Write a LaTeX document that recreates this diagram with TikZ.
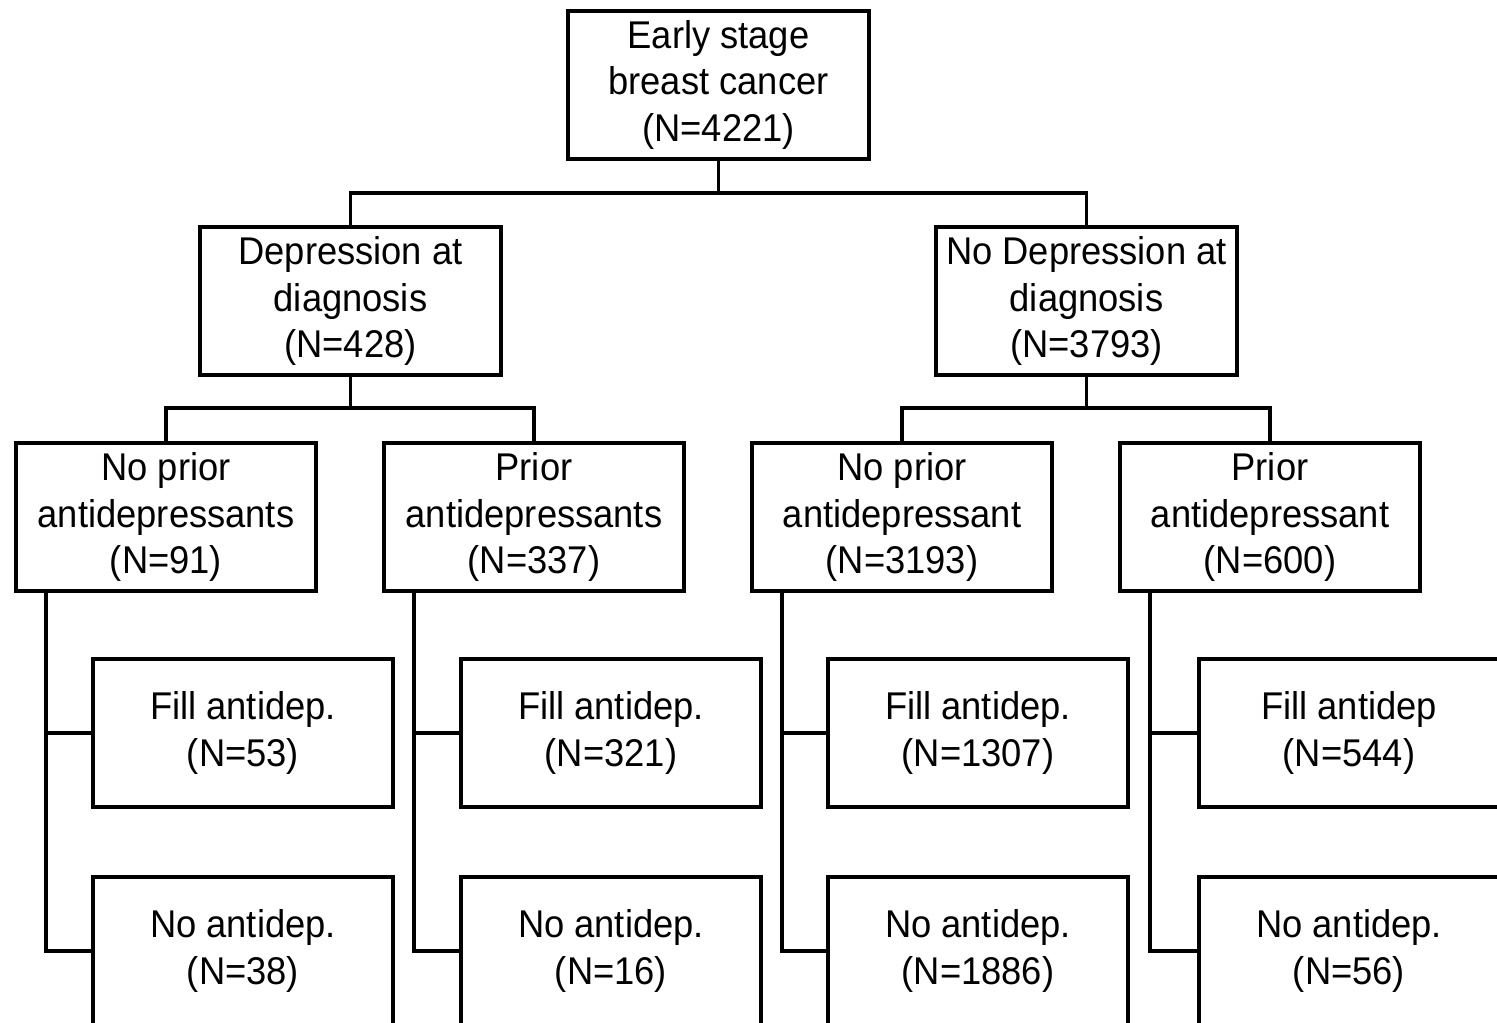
\documentclass[tikz,border=0pt]{standalone}
\usepackage{fontspec}
\setmainfont[FakeStretch=0.94]{Liberation Sans}
\tikzset{
  cohort/.style={rectangle, draw, line width=0.08cm, minimum width=6.02cm, minimum height=2.96cm, inner sep=0pt, align=center, font=\fontsize{22}{26.4}\selectfont},
  link/.style={line width=0.07cm}
}
\newcommand{\cohortbox}[3] {\node at (#1) (#2) [cohort] {#3};}
\newcommand{\cohortsplit}[4] {\draw [link] (#1) -- (#2) -| (#3); \draw [link] (#2) -| (#4);}
\newcommand{\cohortrail}[4] {\draw [link] (#1.south -| #4) -- (#4) -- (#3); \draw [link] (#2 -| #4) -- (#2);}

\begin{document}
\begin{tikzpicture}[x=0.02cm, y=-0.02cm]
\useasboundingbox (0,0) rectangle (1497,1023);

\cohortbox {718.5,85}{top}{Early stage\\breast cancer\\(N=4221)}

\cohortbox {350.5,301}{dep}{Depression at\\diagnosis\\(N=428)}
\cohortbox {1086.5,301}{nodep}{No Depression at\\diagnosis\\(N=3793)}
\coordinate (topsplit) at (718.5,193);
\cohortsplit {top}{topsplit}{dep}{nodep}

\cohortbox {166,517}{dep1}{No prior\\antidepressants\\(N=91)}
\cohortbox {534,517}{dep2}{Prior\\antidepressants\\(N=337)}
\coordinate (depsplit) at (350.5,408);
\cohortsplit {dep}{depsplit}{dep1}{dep2}

\cohortbox {902,517}{nodep1}{No prior\\antidepressant\\(N=3193)}
\cohortbox {1270,517}{nodep2}{Prior\\antidepressant\\(N=600)}
\coordinate (nodepsplit) at (1086.5,408);
\cohortsplit {nodep}{nodepsplit}{nodep1}{nodep2}

\cohortbox {243,733}{dep1fill}{Fill antidep.\\(N=53)}
\cohortbox {243,951}{dep1no}{No antidep.\\(N=38)}
\coordinate (dep1rail) at (46,951);
\cohortrail {dep1}{dep1fill}{dep1no}{dep1rail}

\cohortbox {611,733}{dep2fill}{Fill antidep.\\(N=321)}
\cohortbox {611,951}{dep2no}{No antidep.\\(N=16)}
\coordinate (dep2rail) at (414,951);
\cohortrail {dep2}{dep2fill}{dep2no}{dep2rail}

\cohortbox {978,733}{nodep1fill}{Fill antidep.\\(N=1307)}
\cohortbox {978,951}{nodep1no}{No antidep.\\(N=1886)}
\coordinate (nodep1rail) at (782,951);
\cohortrail {nodep1}{nodep1fill}{nodep1no}{nodep1rail}

\cohortbox {1349,733}{nodep2fill}{Fill antidep\\(N=544)}
\cohortbox {1349,951}{nodep2no}{No antidep.\\(N=56)}
\coordinate (nodep2rail) at (1150,951);
\cohortrail {nodep2}{nodep2fill}{nodep2no}{nodep2rail}

\end{tikzpicture}
\end{document}
